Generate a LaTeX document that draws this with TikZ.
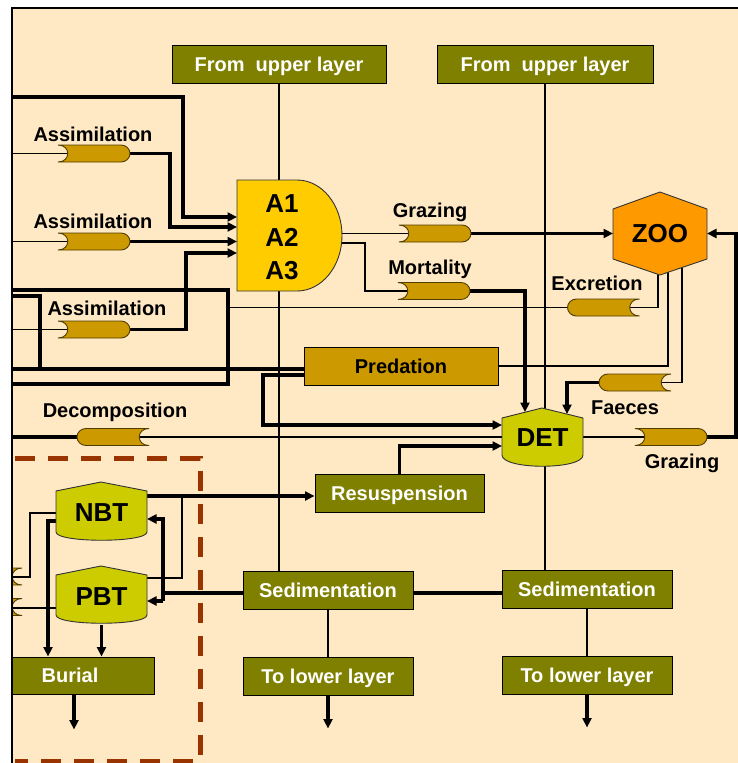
\documentclass[tikz,border=0pt]{standalone}
\usepackage{fontspec}
\setmainfont{Liberation Sans}
\usetikzlibrary{arrows.meta}
\pgfdeclarelayer{backdrop}
\pgfdeclarelayer{background}
\pgfsetlayers{backdrop,background,main}
\definecolor{cream}{RGB}{255,233,196}
\definecolor{olivebox}{RGB}{128,128,0}
\definecolor{valvegold}{RGB}{204,153,0}
\definecolor{agold}{RGB}{255,204,0}
\definecolor{zooorange}{RGB}{255,153,0}
\definecolor{detyellow}{RGB}{204,204,0}
\definecolor{dashbrown}{RGB}{153,51,0}
\begin{document}
\begin{tikzpicture}[x=1pt,y=-1pt,
  thinln/.style={line width=1.6pt, draw=black},
  thickln/.style={line width=3.1pt, draw=black},
  arr/.style={-{Triangle[length=9.5pt,width=9pt]}},
  shp/.style={draw=black!80, line width=0.9pt},
  valve/.style={draw=black!60!valvegold, line width=0.9pt, fill=valvegold},
  lab/.style={font=\bfseries\fontsize{20}{22}\selectfont, inner sep=0pt, text height=14.3pt, text depth=0pt},
  big/.style={font=\bfseries\fontsize{26}{28}\selectfont, inner sep=0pt, text height=18.6pt, text depth=0pt},
  obox/.style={draw=black, line width=1pt, fill=olivebox, text=white, font=\bfseries\fontsize{20}{22}\selectfont, minimum height=38pt, inner sep=0pt, text height=14.3pt, text depth=0pt},
  pbox/.style={obox, fill=valvegold, text=black},
  anc/.style={inner sep=0pt, outer sep=0pt, draw=none},
  vanc/.style={anc, minimum width=72pt, minimum height=17pt},
  pics/vcl/.style={code={\draw[valve] (-36,-8.5) -- (27,-8.5) arc[start angle=-90,end angle=90,x radius=9,y radius=8.5] -- (-36,8.5) .. controls (-23,8.5) and (-23,-8.5) .. (-36,-8.5) -- cycle;}},
  pics/vcr/.style={code={\draw[valve] (36,-8.5) -- (-27,-8.5) arc[start angle=-90,end angle=-270,x radius=9,y radius=8.5] -- (36,8.5) .. controls (23,8.5) and (23,-8.5) .. (36,-8.5) -- cycle;}}
]
\useasboundingbox (0,0) rectangle (738,763);
\begin{pgfonlayer}{backdrop}
\fill[white] (0,0) rectangle (738,763);
\fill[cream] (12,8) rectangle (738,763);
\end{pgfonlayer}

% ---- boxes
\node[obox, minimum width=214pt] (up1) at (279,64) {From~~upper layer};
\node[obox, minimum width=216pt] (up2) at (545,64) {From~~upper layer};
\node[obox, minimum width=170pt] (sed1) at (328,590) {Sedimentation};
\node[obox, minimum width=170pt] (sed2) at (587,589) {Sedimentation};
\node[obox, minimum width=170pt] (low1) at (328,676) {To lower layer};
\node[obox, minimum width=170pt] (low2) at (587,675) {To lower layer};
\node[obox, minimum width=169pt] (res) at (399.5,493) {Resuspension};
\node[pbox, minimum width=194pt] (pred) at (401,366) {Predation};
\node[obox, minimum width=142pt, minimum height=37pt] (bur) at (83,675.5) {};
\node[lab, text=white] (burt) at (70,675.5) {Burial};

% ---- state variables
\draw[shp, fill=agold] (237,180) -- (297,180) arc[start angle=-90,end angle=90,x radius=45,y radius=55.5] -- (237,291) -- cycle;
\node[anc, minimum width=105pt, minimum height=111pt] (A) at (289.5,235.5) {};
\node[big] (a1) at (282,203) {A1};
\node[big] (a2) at (282,237) {A2};
\node[big] (a3) at (282,270) {A3};

\draw[shp, fill=zooorange] (660,192) -- (707,209) -- (707,259) -- (660,275) -- (613,259) -- (613,209) -- cycle;
\node[anc, big, minimum width=94pt, minimum height=83pt] (zoo) at (660,233.5) {ZOO};

\draw[shp, fill=detyellow] (502,418) -- (542,408) -- (583,418) -- (583,455) .. controls (583,470) and (502,470) .. (502,455) -- cycle;
\node[anc, big, minimum width=81pt, minimum height=58pt] (det) at (542.5,437) {DET};

\draw[shp, fill=detyellow] (56,491) -- (101,482) -- (147,491) -- (147,532) .. controls (147,543) and (56,543) .. (56,532) -- cycle;
\node[anc, big, minimum width=91pt, minimum height=58pt] (nbt) at (101.5,512) {NBT};

\draw[shp, fill=detyellow] (56,575) -- (101,566) -- (147,575) -- (147,615) .. controls (147,626) and (56,626) .. (56,615) -- cycle;
\node[anc, big, minimum width=91pt, minimum height=57pt] (pbt) at (101.5,596) {PBT};

% ---- valves
\pic at (94,153.5) {vcl}; \node[vanc] (as1) at (94,153.5) {};
\pic at (94,241.5) {vcl}; \node[vanc] (as2) at (94,241.5) {};
\pic at (94,329.5) {vcl}; \node[vanc] (as3) at (94,329.5) {};
\pic at (435,233.5) {vcl}; \node[vanc] (graz1) at (435,233.5) {};
\pic at (434,291) {vcl}; \node[vanc] (mort) at (434,291) {};
\pic at (603.5,307.5) {vcr}; \node[vanc] (excr) at (603.5,307.5) {};
\pic at (635,382.5) {vcr}; \node[vanc] (faec) at (635,382.5) {};
\pic at (113,437) {vcr}; \node[vanc] (decomp) at (113,437) {};
\pic at (671,437) {vcl}; \node[vanc] (graz2) at (671,437) {};
\begin{scope}
\clip (12,540) rectangle (60,640);
\pic at (-14,576.5) {vcr};
\pic at (-14,607) {vcr};
\end{scope}

% ---- labels
\node[lab] (l1) at (93,134) {Assimilation};
\node[lab] (l2) at (93,221) {Assimilation};
\node[lab] (l3) at (107,308) {Assimilation};
\node[lab] (l4) at (430,210) {Grazing};
\node[lab] (l5) at (430,267) {Mortality};
\node[lab] (l6) at (597,283) {Excretion};
\node[lab] (l7) at (625,407) {Faeces};
\node[lab] (l8) at (682,461) {Grazing};
\node[lab] (l9) at (115,410) {Decomposition};

% ---- connectors
\begin{pgfonlayer}{background}
\draw[thinln] (up1.south) -- (up1.south |- sed1.north);
\draw[thinln] (up2.south) -- (up2.south |- sed2.north);
\draw[thinln] (12,153.5) -- (as1.center);
\draw[thinln] (12,241.5) -- (as2.center);
\draw[thinln] (12,329.5) -- (as3.center);
\draw[thickln,arr] (12,97) -| (183,217) -- (A.west |- 0,217);
\draw[thickln,arr] (as1.east) -| (170,227) -- (A.west |- 0,227);
\draw[thickln,arr] (as2.east) -- (A.west |- as2.east);
\draw[thickln,arr] (as3.east) -| (186,253) -- (A.west |- 0,253);
\draw[thickln] (12,290) -| (228,384) -- (12,384);
\draw[thickln] (12,296) -| (40,369);
\draw[thickln] (12,369) -- (pred.west |- 0,369);
\draw[thinln] (228,307.5) -- (excr.west);
\draw[thinln] (658,265) |- (excr.center);
\draw[thinln] (pred.east) -| (668,265);
\draw[thinln] (682,265) |- (faec.center);
\draw[thickln,arr] (faec.west) -| (567,414);
\draw[thinln] (330,243) -| (365,291) -- (mort.center);
\draw[thickln,arr] (mort.east) -| (525,412);
\draw[thinln] (330,233.5) -- (graz1.center);
\draw[thickln,arr] (graz1.east) -- (zoo.west);
\draw[thinln] (det.east) -- (graz2.center);
\draw[thickln,arr] (graz2.east) -| (736,233.5) -- (zoo.east);
\draw[thickln,arr] (pred.west |- 0,375) -| (263,425) -- (det.west |- 0,425);
\draw[thickln] (12,437) -- (decomp.west);
\draw[thinln] (decomp.center) -- (det.west);
\draw[thickln,arr] (res.north) |- (det.west |- 0,446);
\draw[thickln,arr] (nbt.east |- 0,496) -- (res.west |- 0,496);
\draw[thinln] (pbt.east |- 0,578) -| (182,496);
\draw[thickln] (sed1.west |- 0,593) -- (163,593);
\draw[thickln,arr] (163,601) -- (163,519) -- (nbt.east |- 0,519);
\draw[thickln,arr] (163,601) -- (pbt.east |- 0,601);
\draw[thickln] (sed1.east |- 0,593) -- (sed2.west |- 0,593);
\draw[thinln] (sed1.south) -- (low1.north);
\draw[thinln] (sed2.south) -- (low2.north);
\draw[thickln,arr] (low1.south) -- ++(0,33);
\draw[thickln,arr] (low2.south) -- ++(0,33);
\draw[thinln] (nbt.west |- 0,513) -| (30,577) -- (12,577);
\draw[thinln] (pbt.west |- 0,608) -- (12,608);
\draw[thickln,arr] (nbt.west |- 0,521) -| (bur.north -| 48,0);
\draw[thickln,arr] (pbt.south) -- (pbt.south |- bur.north);
\draw[thickln,arr] (bur.south -| 74,0) -- ++(0,35);
\end{pgfonlayer}

% ---- dashed region and frame
\draw[dashbrown, line width=5pt, dash pattern=on 20pt off 13pt] (15,458) -- (200,458) -- (200,761) -- (15,761);
\draw[line width=2.5pt] (12,763) -- (12,8) -- (738,8);
\end{tikzpicture}
\end{document}
